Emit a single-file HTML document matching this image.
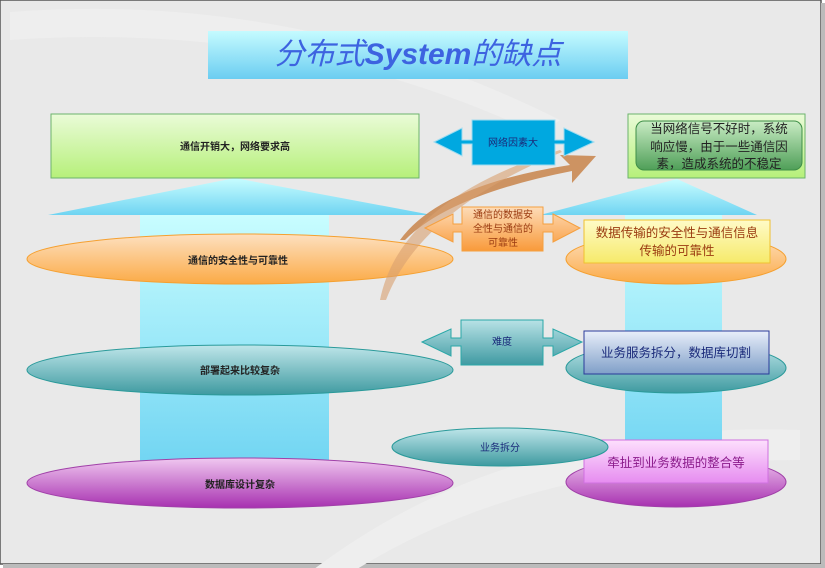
<!DOCTYPE html>
<html><head><meta charset="utf-8"><style>
html,body{margin:0;padding:0;width:825px;height:568px;overflow:hidden;background:#fff}
svg{display:block}
text{font-family:"Liberation Sans","Noto Sans CJK SC",sans-serif}
</style></head><body>
<svg width="825" height="568" viewBox="0 0 825 568" xmlns="http://www.w3.org/2000/svg">
<defs>
<linearGradient id="cy" x1="0" y1="0" x2="0" y2="1"><stop offset="0" stop-color="#c8fdff"/><stop offset="1" stop-color="#6fd4f2"/></linearGradient>
<linearGradient id="ti" x1="0" y1="0" x2="0" y2="1"><stop offset="0" stop-color="#c5fbff"/><stop offset="1" stop-color="#6bcdf1"/></linearGradient>
<linearGradient id="gr" x1="0" y1="0" x2="0" y2="1"><stop offset="0" stop-color="#eafbd8"/><stop offset="1" stop-color="#b6f07a"/></linearGradient>
<linearGradient id="dg" x1="0" y1="0" x2="0" y2="1"><stop offset="0" stop-color="#c9ecc4"/><stop offset="1" stop-color="#4f9f58"/></linearGradient>
<linearGradient id="or" x1="0" y1="0" x2="0" y2="1"><stop offset="0" stop-color="#fde0c0"/><stop offset="1" stop-color="#fbaa45"/></linearGradient>
<linearGradient id="te" x1="0" y1="0" x2="0" y2="1"><stop offset="0" stop-color="#bfe6ea"/><stop offset="1" stop-color="#3e9aa0"/></linearGradient>
<linearGradient id="pu" x1="0" y1="0" x2="0" y2="1"><stop offset="0" stop-color="#f0c8f0"/><stop offset="1" stop-color="#a730b0"/></linearGradient>
<linearGradient id="ye" x1="0" y1="0" x2="0" y2="1"><stop offset="0" stop-color="#fffbc8"/><stop offset="1" stop-color="#f6ea6a"/></linearGradient>
<linearGradient id="bl" x1="0" y1="0" x2="0" y2="1"><stop offset="0" stop-color="#e8eefa"/><stop offset="1" stop-color="#7f9fc8"/></linearGradient>
<linearGradient id="pk" x1="0" y1="0" x2="0" y2="1"><stop offset="0" stop-color="#fde0fd"/><stop offset="1" stop-color="#e68cf0"/></linearGradient>
<linearGradient id="oa" x1="0" y1="0" x2="0" y2="1"><stop offset="0" stop-color="#fddcb8"/><stop offset="1" stop-color="#f99a3a"/></linearGradient>
<linearGradient id="ta" x1="0" y1="0" x2="0" y2="1"><stop offset="0" stop-color="#b8e2e6"/><stop offset="1" stop-color="#3f9aa2"/></linearGradient>
</defs>
<rect x="0" y="0" width="821" height="564" fill="#e9e9e9" stroke="#555" stroke-width="1.5"/>
<rect x="821" y="3" width="4" height="565" fill="#bbb"/><rect x="3" y="564" width="822" height="4" fill="#bbb"/>
<path d="M10 12 Q300 -10 560 120 L540 135 Q300 20 10 40Z" fill="#eeeeee"/>
<path d="M300 580 Q500 420 800 430 L800 460 Q520 460 340 580Z" fill="#eeeeee"/>
<!-- title -->
<rect x="208" y="31" width="420" height="48" fill="url(#ti)"/>
<text x="418" y="64" text-anchor="middle" font-size="30" font-style="italic" fill="#3d63e0"><tspan>分布式</tspan><tspan font-weight="bold">System</tspan><tspan>的缺点</tspan></text>
<!-- left big arrow -->
<rect x="140" y="215" width="189" height="255" fill="url(#cy)"/>
<polygon points="48,215 235,178 432,215" fill="url(#cy)"/>
<rect x="51" y="114" width="368" height="64" fill="url(#gr)" stroke="#6cb36c"/>
<text x="235" y="150" text-anchor="middle" font-size="10" font-weight="bold" fill="#222">通信开销大，网络要求高</text>
<ellipse cx="240" cy="259" rx="213" ry="25" fill="url(#or)" stroke="#f5a030"/>
<text x="238" y="264" text-anchor="middle" font-size="10" font-weight="bold" fill="#222">通信的安全性与可靠性</text>
<ellipse cx="240" cy="370" rx="213" ry="25" fill="url(#te)" stroke="#2a9a9a"/>
<text x="240" y="374" text-anchor="middle" font-size="10" font-weight="bold" fill="#222">部署起来比较复杂</text>
<ellipse cx="240" cy="483" rx="213" ry="25" fill="url(#pu)" stroke="#a040a8"/>
<text x="240" y="488" text-anchor="middle" font-size="10" font-weight="bold" fill="#222">数据库设计复杂</text>
<!-- right arrow -->
<rect x="625" y="215" width="97" height="250" fill="url(#cy)"/>
<polygon points="540,215 677,179 757,215" fill="url(#cy)"/>
<rect x="628" y="114" width="177" height="64" fill="url(#gr)" stroke="#6cb36c"/>
<rect x="636" y="121" width="166" height="49" rx="8" fill="url(#dg)" stroke="#3f8f48"/>
<text font-size="12.5" fill="#222" text-anchor="middle"><tspan x="719" y="133">当网络信号不好时，系统</tspan><tspan x="719" y="151">响应慢，由于一些通信因</tspan><tspan x="719" y="168">素，造成系统的不稳定</tspan></text>
<!-- curved arrows -->
<path d="M400 240 Q440 185 570 165 L560 155 L596 156 L572 183 L572 171 Q450 195 405 240Z" fill="#c8844a" opacity="0.85"/>
<path d="M380 300 Q400 200 560 150 L562 152 Q420 210 386 300Z" fill="#d9a070" opacity="0.6"/>
<ellipse cx="676" cy="259" rx="110" ry="25" fill="url(#or)" stroke="#f5a030"/>
<rect x="584" y="220" width="186" height="43" fill="url(#ye)" stroke="#f0c030"/>
<text font-size="12.5" fill="#9a3a10" text-anchor="middle"><tspan x="677" y="237">数据传输的安全性与通信信息</tspan><tspan x="677" y="255">传输的可靠性</tspan></text>
<ellipse cx="676" cy="368" rx="110" ry="25" fill="url(#te)" stroke="#2a9a9a"/>
<rect x="584" y="331" width="185" height="43" fill="url(#bl)" stroke="#2a3a9a"/>
<text x="676" y="357" text-anchor="middle" font-size="12.5" fill="#1a2a7a">业务服务拆分，数据库切割</text>
<ellipse cx="676" cy="482" rx="110" ry="25" fill="url(#pu)" stroke="#a040a8"/>
<rect x="584" y="440" width="184" height="43" fill="url(#pk)" stroke="#d070e0"/>
<text x="676" y="467" text-anchor="middle" font-size="12.5" fill="#8a1a8a">牵扯到业务数据的整合等</text>
<ellipse cx="500" cy="447" rx="108" ry="19" fill="url(#te)" stroke="#2a9a9a"/>
<text x="500" y="451" text-anchor="middle" font-size="10" fill="#1a2a7a">业务拆分</text>
<!-- double arrows -->
<polygon points="434,142 462,128 462,140 472,140 472,120 555,120 555,140 564,140 564,128 594,142 564,156 564,144 555,144 555,165 472,165 472,144 462,144 462,156" fill="#00a8e0" stroke="#9fdcf0"/>
<text x="513" y="146" text-anchor="middle" font-size="10" fill="#1a2a7a">网络因素大</text>
<polygon points="425,228 453,214 453,224 462,224 462,207 543,207 543,224 553,224 553,214 580,228 553,242 553,232 543,232 543,251 462,251 462,232 453,232 453,242" fill="url(#oa)" stroke="#f5a040"/>
<text font-size="10" fill="#9a3a10" text-anchor="middle"><tspan x="503" y="218">通信的数据安</tspan><tspan x="503" y="232">全性与通信的</tspan><tspan x="503" y="246">可靠性</tspan></text>
<polygon points="422,342 451,329 451,338 461,338 461,320 543,320 543,338 553,338 553,329 582,342 553,356 553,346 543,346 543,365 461,365 461,346 451,346 451,356" fill="url(#ta)" stroke="#2aa8a8"/>
<text x="502" y="345" text-anchor="middle" font-size="10" fill="#1a2a7a">难度</text>
</svg>
</body></html>
